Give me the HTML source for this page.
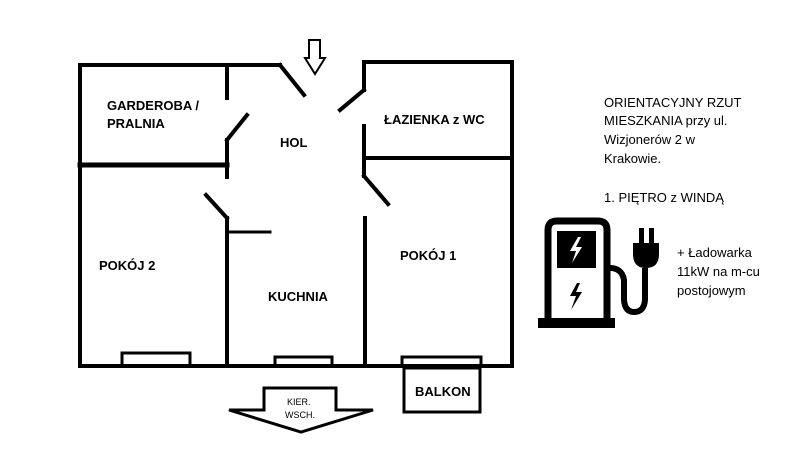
<!DOCTYPE html>
<html><head><meta charset="utf-8"><style>
body{margin:0;background:#fff;width:800px;height:450px;overflow:hidden}
svg text{font-family:"Liberation Sans",sans-serif}
.b{font-weight:bold;font-size:13px}
.r{font-size:13px}
</style></head><body>
<svg width="800" height="450" viewBox="0 0 800 450" xmlns="http://www.w3.org/2000/svg">
<g stroke="#000" stroke-width="4" fill="none" stroke-linecap="square">
<polyline points="280,65 80,65 80,366 512,366 512,62 364,62 364,90"/>
<line x1="280" y1="65" x2="304" y2="95"/>
<line x1="364" y1="90" x2="340" y2="110"/>
<line x1="227" y1="65" x2="227" y2="98"/>
<line x1="227" y1="140" x2="247" y2="115"/>
<line x1="227" y1="140" x2="227" y2="177"/>
<line x1="80" y1="165" x2="227" y2="165" stroke-width="5"/>
<line x1="206" y1="195" x2="227" y2="218"/>
<line x1="227" y1="218" x2="227" y2="366"/>
<line x1="227" y1="232" x2="270" y2="232" stroke-width="3"/>
<line x1="364" y1="126" x2="364" y2="176"/>
<line x1="364" y1="158" x2="512" y2="158"/>
<line x1="364" y1="176" x2="388" y2="204"/>
<line x1="365" y1="218" x2="365" y2="366"/>
<rect x="122" y="353" width="68" height="13" stroke-width="3"/>
<rect x="275" y="357" width="57" height="9" stroke-width="3"/>
<rect x="402" y="357" width="79" height="9" stroke-width="3"/>
<rect x="404" y="368" width="76" height="44" stroke-width="3"/>
<polygon points="264,388 336,388 336,410 373,410 301,432 229,410 264,410" stroke-width="3" stroke-linejoin="miter"/>
<polygon points="309,40 320,40 320,58 325,58 315,74 305,58 309,58" stroke-width="2"/>
</g>
<text class="b" x="107" y="110">GARDEROBA /</text>
<text class="b" x="107" y="128">PRALNIA</text>
<text class="b" x="280" y="147">HOL</text>
<text class="b" x="384" y="124">ŁAZIENKA z WC</text>
<text class="b" x="99" y="270">POKÓJ 2</text>
<text class="b" x="268" y="301">KUCHNIA</text>
<text class="b" x="400" y="260">POKÓJ 1</text>
<text class="b" x="415" y="396">BALKON</text>
<text x="287" y="405" font-size="9">KIER.</text>
<text x="285" y="418" font-size="9">WSCH.</text>
<text class="r" x="604" y="107">ORIENTACYJNY RZUT</text>
<text class="r" x="604" y="125">MIESZKANIA przy ul.</text>
<text class="r" x="604" y="144">Wizjonerów 2 w</text>
<text class="r" x="604" y="163">Krakowie.</text>
<text class="r" x="604" y="202">1. PIĘTRO z WINDĄ</text>
<text class="r" x="677" y="257">+ Ładowarka</text>
<text class="r" x="677" y="276">11kW na m-cu</text>
<text class="r" x="677" y="295">postojowym</text>
<path d="M548,318 V230 Q548,221 557,221 H598 Q607,221 607,230 V318" fill="none" stroke="#000" stroke-width="7"/>
<rect x="538" y="318" width="77" height="10" fill="#000"/>
<rect x="557" y="231" width="39" height="37" fill="#000"/>
<polygon points="578,237 570,251 576,251 572,263 582,247 576,247 581,237" fill="#fff"/>
<polygon points="577,283 570,296 576,296 571,310 582,292 576,292 580,283" fill="#000"/>
<path d="M607,268 Q622,267 624,280 V300 Q625,312 634,312 Q644,312 645,300 V268" fill="none" stroke="#000" stroke-width="6"/>
<path d="M633,243 H659 V254 Q659,268 646,268 Q633,268 633,254 Z" fill="#000"/>
<rect x="639" y="228" width="5" height="16" fill="#000"/>
<rect x="649" y="228" width="5" height="16" fill="#000"/>
</svg>
</body></html>
